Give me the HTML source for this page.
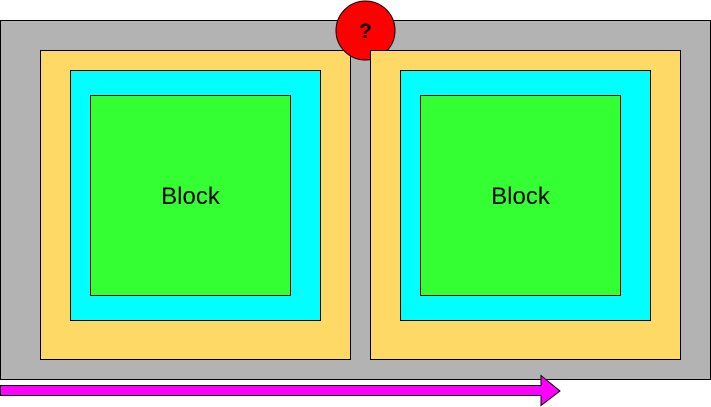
<!DOCTYPE html>
<html><head><meta charset="utf-8"><style>html,body{margin:0;padding:0;background:#fff;width:711px;height:407px;overflow:hidden}</style></head>
<body>
<svg width="711" height="407" viewBox="0 0 711 407" xmlns="http://www.w3.org/2000/svg" font-family="Liberation Sans, sans-serif">
<rect x="0.5" y="20.5" width="710" height="359" fill="#b3b3b3" stroke="#000"/>
<g>
<rect x="40.5" y="50.5" width="310" height="309" fill="#ffd966" stroke="#000"/>
<rect x="70.5" y="70.5" width="250" height="250" fill="#00ffff" stroke="#000"/>
<rect x="90.5" y="95.5" width="200" height="200" fill="#33ff33" stroke="#000"/>
<text x="190.5" y="204" font-size="24" text-anchor="middle" fill="#000">Block</text>
</g>
<circle cx="365.5" cy="30.5" r="29.5" fill="#ff0000" stroke="#000"/>
<text x="365.5" y="38" font-size="21" font-weight="bold" text-anchor="middle" fill="#000">?</text>
<g>
<rect x="370.5" y="50.5" width="310" height="309" fill="#ffd966" stroke="#000"/>
<rect x="400.5" y="70.5" width="250" height="250" fill="#00ffff" stroke="#000"/>
<rect x="420.5" y="95.5" width="200" height="200" fill="#33ff33" stroke="#000"/>
<text x="520.5" y="204" font-size="24" text-anchor="middle" fill="#000">Block</text>
</g>
<polygon points="0.5,385.5 541,385.5 541,375.5 560,391 541,405.5 541,395.5 0.5,395.5" fill="#ff00ff" stroke="#000"/>
</svg>
</body></html>
